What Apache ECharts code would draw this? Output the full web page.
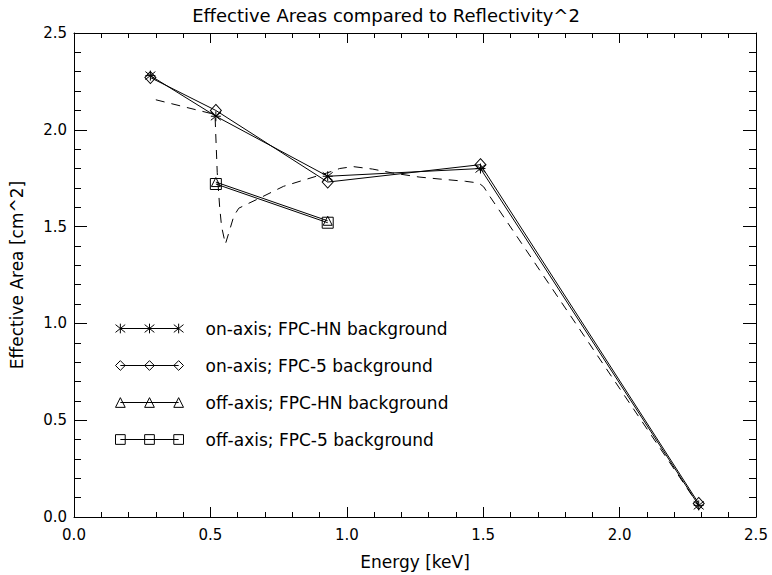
<!DOCTYPE html>
<html>
<head>
<meta charset="utf-8">
<script src="https://cdn.jsdelivr.net/npm/echarts@6/dist/echarts.min.js"></script>
<style>
html,body{margin:0;padding:0;background:#fff;}
#chart{width:772px;height:575px;}
</style>
</head>
<body>
<div id="chart"></div>
<script>
// ---- data ----
const energyOnAxis = [0.28, 0.52, 0.93, 1.49, 2.29];
const areaOnHN = [2.28, 2.07, 1.76, 1.80, 0.06];
const areaOn5 = [2.27, 2.10, 1.73, 1.82, 0.07];
const energyOffAxis = [0.52, 0.93];
const areaOffHN = [1.73, 1.53];
const areaOff5 = [1.72, 1.52];
const reflEnergy = [0.30, 0.40, 0.50, 0.517, 0.519, 0.525, 0.534, 0.541, 0.555, 0.568, 0.586, 0.604, 0.64, 0.67, 0.768, 0.853, 0.925, 0.974, 1.023, 1.095, 1.168, 1.265, 1.338, 1.435, 1.484, 1.502, 1.52, 2.29];
const reflSquared = [2.155, 2.12, 2.085, 2.075, 2.00, 1.78, 1.60, 1.50, 1.41, 1.47, 1.555, 1.595, 1.62, 1.64, 1.708, 1.745, 1.776, 1.80, 1.81, 1.797, 1.777, 1.756, 1.746, 1.734, 1.725, 1.705, 1.665, 0.06];
const tickValues = [0.0, 0.5, 1.0, 1.5, 2.0, 2.5];
const seriesNames = ['on-axis; FPC-HN background', 'on-axis; FPC-5 background', 'off-axis; FPC-HN background', 'off-axis; FPC-5 background'];

const zip = (xs, ys) => xs.map((x, i) => [x, ys[i]]);

const FONT = 'DejaVu Sans';
const symAsterisk = 'path://M0 1L10 9M10 1L0 9M5 0L5 10M0 5L10 5';
function rowIcon(markerFn) {
  let p = 'M5 5L65 5';
  [5, 35, 65].forEach(c => { p += markerFn(c); });
  return 'path://' + p;
}
const iconAsterisk = rowIcon(c => `M${c-5} 1L${c+5} 9M${c+5} 1L${c-5} 9M${c} 0L${c} 10`);
const iconDiamond = rowIcon(c => `M${c} 0L${c+5} 5L${c} 10L${c-5} 5Z`);
const iconTriangle = rowIcon(c => `M${c} 0L${c+5} 10L${c-5} 10Z`);
const iconSquare = rowIcon(c => `M${c-5} 0L${c+5} 0L${c+5} 10L${c-5} 10Z`);

const openItem = {color: 'rgba(0,0,0,0)', borderColor: '#000', borderWidth: 1};
const blackLine = {color: '#000', width: 1};

function xAx(pos, showLabel) {
  return {
    type: 'value', position: pos, min: 0, max: 2.5, interval: 0.5,
    name: showLabel ? 'Energy [keV]' : '', nameLocation: 'middle', nameGap: 36,
    nameTextStyle: {fontFamily: FONT, fontSize: 17, color: '#000'},
    axisLine: {show: true, onZero: false, lineStyle: {color: '#000', width: 1}},
    axisTick: {show: true, inside: true, length: 10, lineStyle: {color: '#000'}},
    minorTick: {show: true, splitNumber: 5, length: 5, lineStyle: {color: '#000'}},
    splitLine: {show: false}, minorSplitLine: {show: false},
    axisLabel: {show: showLabel, margin: 10, fontFamily: FONT, fontSize: 15, color: '#000',
      formatter: v => Number(v).toFixed(1)}
  };
}
function yAx(pos, showLabel) {
  return {
    type: 'value', position: pos, min: 0, max: 2.5, interval: 0.5,
    name: showLabel ? 'Effective Area [cm^2]' : '', nameLocation: 'middle', nameGap: 49, nameRotate: 90,
    nameTextStyle: {fontFamily: FONT, fontSize: 17, color: '#000'},
    axisLine: {show: true, onZero: false, lineStyle: {color: '#000', width: 1}},
    axisTick: {show: true, inside: true, length: 13, lineStyle: {color: '#000'}},
    minorTick: {show: true, splitNumber: 5, length: 7, lineStyle: {color: '#000'}},
    splitLine: {show: false}, minorSplitLine: {show: false},
    axisLabel: {show: showLabel, margin: 7, fontFamily: FONT, fontSize: 15, color: '#000',
      formatter: v => Number(v).toFixed(1)}
  };
}

const chart = echarts.init(document.getElementById('chart'), null, {renderer: 'svg'});
chart.setOption({
  animation: false,
  backgroundColor: '#fff',
  title: {
    text: 'Effective Areas compared to Reflectivity^2', left: 'center', top: 1,
    textStyle: {fontFamily: FONT, fontSize: 18, fontWeight: 'normal', color: '#000'}
  },
  grid: {left: 69, right: 16, top: 33, bottom: 57, containLabel: false},
  xAxis: [xAx('bottom', true), xAx('top', false)],
  yAxis: [yAx('left', true), yAx('right', false)],
  legend: {
    orient: 'vertical', left: 110, top: 315, itemWidth: 68, itemHeight: 10, itemGap: 20,
    selectedMode: false,
    textStyle: {fontFamily: FONT, fontSize: 17, color: '#000', padding: [0, 0, 0, 17]},
    data: [
      {name: seriesNames[0], icon: iconAsterisk, itemStyle: openItem},
      {name: seriesNames[1], icon: iconDiamond, itemStyle: openItem},
      {name: seriesNames[2], icon: iconTriangle, itemStyle: openItem},
      {name: seriesNames[3], icon: iconSquare, itemStyle: openItem}
    ]
  },
  series: [
    {name: 'Reflectivity^2', type: 'line', data: zip(reflEnergy, reflSquared), showSymbol: false, symbol: 'none',
      lineStyle: {color: '#000', width: 1, type: [9, 7]}, silent: true},
    {name: seriesNames[0], type: 'line', data: zip(energyOnAxis, areaOnHN), symbol: symAsterisk, symbolSize: [10, 10],
      lineStyle: blackLine, itemStyle: openItem},
    {name: seriesNames[1], type: 'line', data: zip(energyOnAxis, areaOn5), symbol: 'diamond', symbolSize: [11, 12],
      lineStyle: blackLine, itemStyle: openItem},
    {name: seriesNames[2], type: 'line', data: zip(energyOffAxis, areaOffHN), symbol: 'triangle', symbolSize: [9, 9],
      lineStyle: blackLine, itemStyle: openItem},
    {name: seriesNames[3], type: 'line', data: zip(energyOffAxis, areaOff5), symbol: 'rect', symbolSize: [11, 11],
      lineStyle: blackLine, itemStyle: openItem}
  ]
});
</script>
</body>
</html>
